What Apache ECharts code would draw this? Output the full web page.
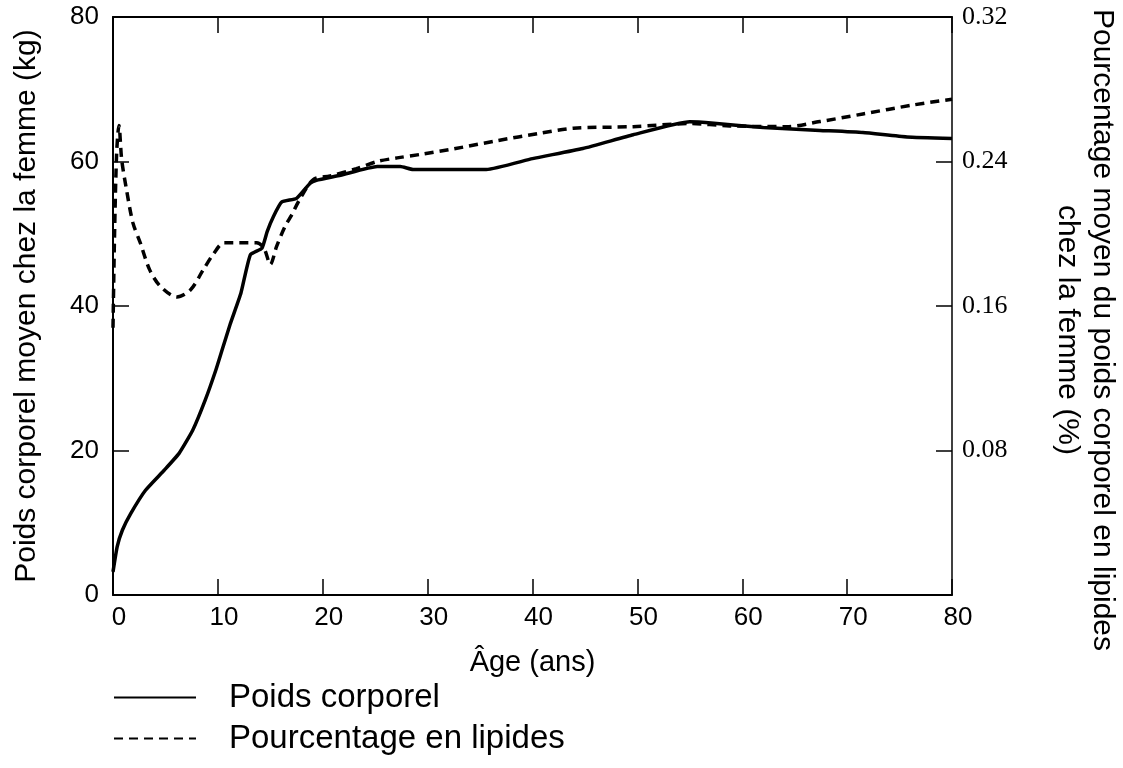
<!DOCTYPE html>
<html>
<head>
<meta charset="utf-8">
<script src="https://cdn.jsdelivr.net/npm/echarts@6/dist/echarts.min.js"></script>
<style>
html,body{margin:0;padding:0;background:#fff;}
#chart{width:1123px;height:768px;}
</style>
</head>
<body>
<div id="chart"></div>
<script>
// Poids corporel (kg) vs âge
const weightAge = [0, 0.4, 0.9, 1.7, 3.1, 4.9, 6.3, 7.6, 8.8, 9.8, 10.4, 11.2, 12.2, 13.1, 14.2, 14.7, 15.3, 16.1, 17.5, 18.8, 19.4, 21.7, 25.2, 27.4, 28.6, 35.6, 40.0, 44.8, 49.6, 55.0, 57.3, 62.0, 67.4, 71.5, 75.7, 80];
const weightKg = [3.2, 6.7, 9.0, 11.3, 14.5, 17.3, 19.6, 22.8, 27.0, 31.1, 33.9, 37.6, 41.8, 47.1, 48.0, 50.3, 52.4, 54.4, 54.9, 57.0, 57.4, 58.1, 59.3, 59.3, 58.9, 58.9, 60.4, 61.8, 63.7, 65.5, 65.3, 64.7, 64.3, 64.0, 63.4, 63.2];
// Pourcentage en lipides vs âge
const lipidAge = [0, 0.15, 0.35, 0.57, 0.83, 1.3, 1.9, 2.6, 3.5, 4.5, 6.1, 7.4, 8.6, 9.6, 10.6, 13.7, 14.4, 15.0, 15.6, 16.4, 17.0, 17.8, 19.1, 20.7, 23.2, 25.2, 27.1, 29.4, 32.5, 36.6, 40.7, 43.9, 49.6, 55.0, 58.8, 64.2, 67.4, 71.5, 76.3, 80];
const lipidPct = [0.148, 0.20, 0.245, 0.260, 0.241, 0.224, 0.206, 0.195, 0.180, 0.171, 0.165, 0.169, 0.180, 0.189, 0.195, 0.195, 0.192, 0.183, 0.193, 0.204, 0.210, 0.219, 0.230, 0.232, 0.236, 0.240, 0.242, 0.244, 0.247, 0.2515, 0.2556, 0.2584, 0.2593, 0.2610, 0.2597, 0.2593, 0.2621, 0.2663, 0.2713, 0.2745];

const xTicks = [0, 80, 10];
const leftTicks = [0, 80, 20];
const rightTicks = [0, 0.32, 0.08];

const seriesNames = ['Poids corporel', 'Pourcentage en lipides'];
const xTitle = 'Âge (ans)';
const leftTitle = 'Poids corporel moyen chez la femme (kg)';
const rightTitle = 'Pourcentage moyen du poids corporel en lipides\nchez la femme (%)';

const sans = '"Liberation Sans", Arial, sans-serif';
const serif = '"Liberation Serif", "Times New Roman", serif';

const chart = echarts.init(document.getElementById('chart'), null, {renderer: 'canvas'});
chart.setOption({
  animation: false,
  backgroundColor: '#fff',
  grid: {left: 113, right: 171, top: 17, bottom: 173, outerBoundsMode: 'none', containLabel: false},
  legend: {
    orient: 'vertical',
    left: 108,
    top: 676,
    itemWidth: 82,
    itemHeight: 14,
    itemGap: 8,
    data: seriesNames,
    itemStyle: {opacity: 0},
    textStyle: {fontFamily: sans, fontSize: 33, color: '#000', padding: [0, 0, 0, 28]}
  },
  xAxis: [{
    type: 'value', min: xTicks[0], max: xTicks[1], interval: xTicks[2],
    position: 'bottom',
    name: xTitle, nameLocation: 'middle', nameGap: 53,
    nameTextStyle: {fontFamily: sans, fontSize: 29, color: '#000'},
    axisLine: {show: true, onZero: false, lineStyle: {color: '#000', width: 2}},
    axisTick: {show: true, inside: true, length: 16, lineStyle: {color: '#000', width: 1.5}},
    axisLabel: {fontFamily: sans, fontSize: 26, color: '#000', margin: 10, padding: [0, 0, 0, 12]},
    splitLine: {show: false}
  }, {
    type: 'value', min: xTicks[0], max: xTicks[1], interval: xTicks[2],
    position: 'top',
    axisLine: {show: true, onZero: false, lineStyle: {color: '#000', width: 2}},
    axisTick: {show: true, inside: true, length: 16, lineStyle: {color: '#000', width: 1.5}},
    axisLabel: {show: false},
    splitLine: {show: false}
  }],
  yAxis: [{
    type: 'value', min: leftTicks[0], max: leftTicks[1], interval: leftTicks[2],
    position: 'left',
    name: leftTitle, nameLocation: 'middle', nameGap: 71,
    nameTextStyle: {fontFamily: sans, fontSize: 30, color: '#000'},
    axisLine: {show: true, onZero: false, lineStyle: {color: '#000', width: 2}},
    axisTick: {show: true, inside: true, length: 16, lineStyle: {color: '#000', width: 1.5}},
    axisLabel: {fontFamily: sans, fontSize: 26, color: '#000', margin: 14},
    splitLine: {show: false}
  }, {
    type: 'value', min: rightTicks[0], max: rightTicks[1], interval: rightTicks[2],
    position: 'right',
    name: rightTitle, nameLocation: 'middle', nameGap: 98, nameRotate: -90,
    nameTextStyle: {fontFamily: sans, fontSize: 30, color: '#000', lineHeight: 35, padding: [0, 0, 0, 48]},
    axisLine: {show: true, onZero: false, lineStyle: {color: '#000', width: 1.5}},
    axisTick: {show: true, inside: true, length: 16, lineStyle: {color: '#000', width: 1.5}},
    axisLabel: {fontFamily: serif, fontSize: 26, color: '#000', margin: 10,
      formatter: v => v === 0 ? '' : v.toFixed(2)},
    splitLine: {show: false}
  }],
  series: [{
    name: seriesNames[0],
    type: 'line',
    xAxisIndex: 0, yAxisIndex: 0,
    showSymbol: false, symbol: 'none',
    smooth: 0.15,
    lineStyle: {color: '#000', width: 3.5, type: 'solid'},
    itemStyle: {color: '#000'},
    data: weightAge.map((a, i) => [a, weightKg[i]])
  }, {
    name: seriesNames[1],
    type: 'line',
    xAxisIndex: 0, yAxisIndex: 1,
    showSymbol: false, symbol: 'none',
    smooth: 0.3,
    lineStyle: {color: '#000', width: 3.5, type: [9, 6]},
    itemStyle: {color: '#000'},
    data: lipidAge.map((a, i) => [a, lipidPct[i]])
  }]
});
</script>
</body>
</html>
